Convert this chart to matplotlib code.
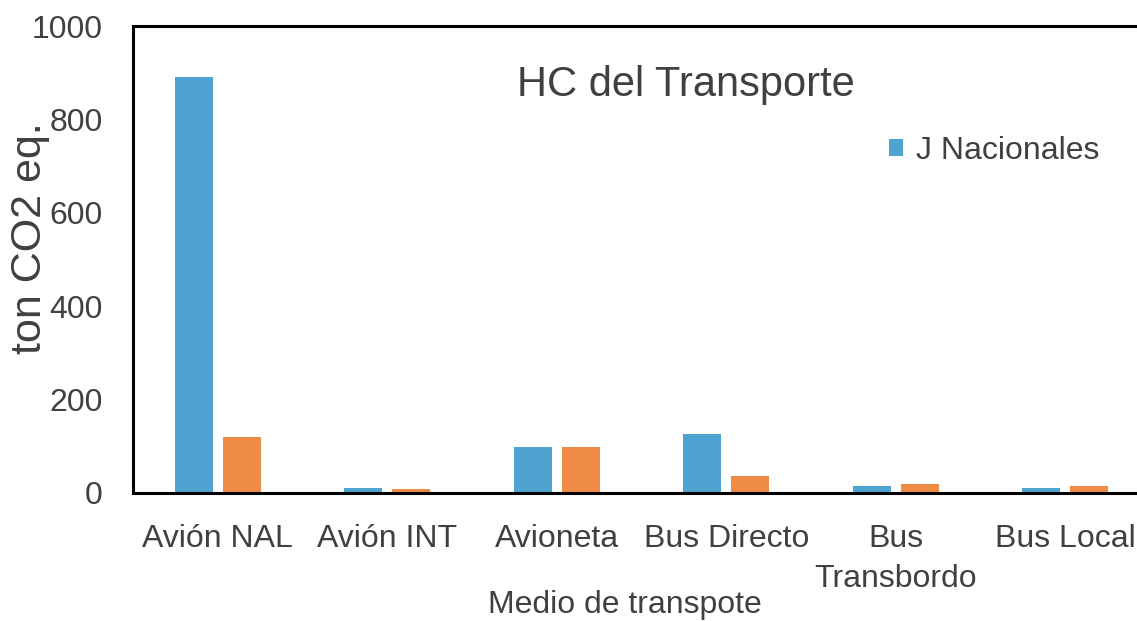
import numpy as np
import matplotlib
matplotlib.use("Agg")
import matplotlib.pyplot as plt

plt.rcParams['font.family'] = ['Liberation Sans', 'DejaVu Sans']

categorias = ['Avión NAL', 'Avión INT', 'Avioneta', 'Bus Directo', 'Bus\nTransbordo', 'Bus Local']
j_nacionales = [890, 10, 98, 126, 15, 10]
otra_serie = [120, 9, 98, 37, 20, 15]
serie_labels = ['J Nacionales', '']

azul = '#4FA3D1'
naranja = '#EE8A43'
gris = '#404040'

fig = plt.figure(figsize=(11.37, 6.21), dpi=100)
W, H = 1137, 621
# axes box in pixels: left 133, right 1150 (runs past the edge), top 26, bottom 493
ax = fig.add_axes([133 / W, 1 - 493 / H, (1150 - 133) / W, (493 - 26) / H])

x = np.arange(len(categorias))
ancho = 0.224
off = 0.142
b1 = ax.bar(x - off, j_nacionales, ancho, color=azul, label=serie_labels[0])
b2 = ax.bar(x + off, otra_serie, ancho, color=naranja)

ax.set_xlim(-0.5, len(categorias) - 0.5)
ax.set_ylim(0, 1000)
ax.set_yticks([0, 200, 400, 600, 800, 1000])
ax.set_xticks(x)
ax.set_xticklabels(categorias, linespacing=1.45)
ax.tick_params(axis='both', length=0, labelsize=23, labelcolor=gris)
ax.tick_params(axis='y', pad=22)
ax.tick_params(axis='x', pad=22)
for s in ax.spines.values():
    s.set_linewidth(2.2)
    s.set_color('black')

# titulo dentro del grafico
fig.text(686 / W, 1 - 85 / H, 'HC del Transporte', fontsize=30, color=gris,
         ha='center', va='center')
fig.text(30 / W, 1 - 238 / H, 'ton CO2 eq.', fontsize=31, color=gris,
         rotation=90, ha='center', va='center')
fig.text(625 / W, 1 - 605 / H, 'Medio de transpote', fontsize=23, color=gris,
         ha='center', va='center')

ax.legend(handles=[b1], labels=[serie_labels[0]], loc='center left',
          bbox_to_anchor=(889 / W, 1 - 151 / H), bbox_transform=fig.transFigure,
          frameon=False, fontsize=23, handlelength=0.45, handleheight=0.45,
          handletextpad=0.4, borderpad=0, borderaxespad=0, labelcolor=gris)

fig.savefig('out.png', dpi=100)
